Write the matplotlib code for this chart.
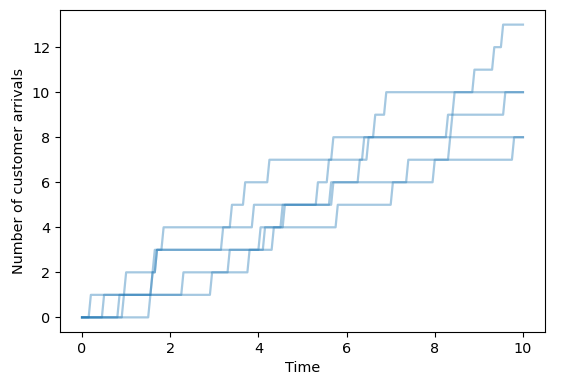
import numpy as np
import matplotlib
matplotlib.use('Agg')
from matplotlib import pyplot as plt

# arrival times, one list per simulated path
arrivals_a = [0.20, 0.98, 1.68, 1.84, 3.39, 3.70, 4.25, 5.67, 6.61, 6.87, 8.86, 9.34, 9.54]
arrivals_b = [0.50, 1.58, 1.64, 3.17, 3.87, 5.34, 5.58, 6.39, 8.36, 8.42]
arrivals_c = [0.85, 2.30, 3.33, 4.14, 4.53, 5.62, 6.28, 6.50, 8.29, 9.56]
arrivals_d = [0.92, 2.93, 3.76, 4.35, 5.80, 7.02, 7.99, 8.34]
arrivals_e = [1.51, 1.60, 1.66, 4.05, 4.60, 5.67, 7.37, 9.80]

paths = [arrivals_a, arrivals_b, arrivals_c, arrivals_d, arrivals_e]

t_end = 10
t = np.linspace(0, t_end, 201)

plt.rcParams['font.size'] = 10.4

fig, ax = plt.subplots(figsize=(5.7, 3.86), dpi=100)
fig.subplots_adjust(left=60/570, right=545/570, top=1-10/386, bottom=1-332/386)

for arr in paths:
    n = np.searchsorted(np.array(arr), t, side='right')
    ax.plot(t, n, color='C0', alpha=0.4, lw=1.6)

ax.set_xlabel('Time')
ax.set_ylabel('Number of customer arrivals')
ax.set_yticks(range(0, 13, 2))

plt.savefig('out.png', dpi=100)
